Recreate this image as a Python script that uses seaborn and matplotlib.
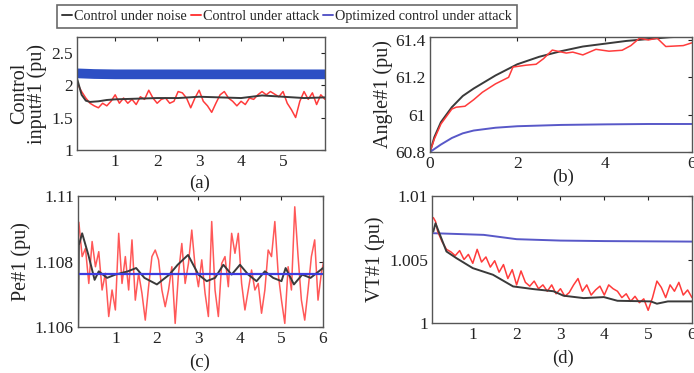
import numpy as np
import matplotlib
matplotlib.use("Agg")
import matplotlib.pyplot as plt
from matplotlib.lines import Line2D
import seaborn as sns

# === Series labels / colours ===
labels = ["Control under noise", "Control under attack", "Optimized control under attack"]
c_noise = "#3a3a3a"
c_attack = "#ff3b3b"
c_opt = "#5858c8"

# === (a) Control input#1 ===
a_red_t = np.round(np.arange(0.1, 6.01, 0.1), 2)
a_red = [2.02, 1.90, 1.80, 1.72, 1.68, 1.65, 1.72, 1.68, 1.75, 1.85,
         1.72, 1.80, 1.72, 1.78, 1.70, 1.82, 1.78, 1.92, 1.80, 1.72,
         1.78, 1.80, 1.72, 1.75, 1.90, 1.88, 1.80, 1.65, 1.80, 1.92,
         1.75, 1.68, 1.58, 1.72, 1.85, 1.90, 1.80, 1.75, 1.68, 1.75,
         1.70, 1.80, 1.78, 1.85, 1.90, 1.85, 1.90, 1.86, 1.82, 1.90,
         1.72, 1.62, 1.50, 1.75, 1.90, 1.78, 1.88, 1.70, 1.85, 1.78]
a_black_t = [0.1, 0.2, 0.3, 0.4, 0.6, 0.8, 1.0, 1.5, 2.0, 2.5, 3.0, 3.5, 4.0, 4.5, 5.0, 5.5, 6.0]
a_black = [2.08, 1.85, 1.76, 1.74, 1.75, 1.77, 1.78, 1.79, 1.80, 1.80, 1.82, 1.81, 1.80, 1.84, 1.82, 1.80, 1.81]
a_blue_t = [0.1, 0.5, 1, 2, 3, 4, 5, 6]
a_blue = [2.18, 2.17, 2.165, 2.165, 2.165, 2.165, 2.165, 2.165]

# === (b) Angle#1 ===
b_black_t = [0, 0.1, 0.25, 0.5, 0.75, 1, 1.5, 2, 2.5, 3, 3.5, 4, 4.5, 5, 5.5, 6]
b_black = [60.8, 60.88, 60.96, 61.04, 61.10, 61.14, 61.21, 61.27, 61.31, 61.34,
           61.365, 61.38, 61.395, 61.405, 61.415, 61.42]
b_red_t = [0, 0.1, 0.25, 0.5, 0.6, 0.8, 1.0, 1.2, 1.5, 1.8, 1.9, 2.2, 2.43, 2.6, 2.8,
           3.12, 3.27, 3.5, 3.8, 4.1, 4.4, 4.6, 4.8, 5.0, 5.2, 5.4, 5.8, 6.0]
b_red = [60.8, 60.87, 60.95, 61.03, 61.04, 61.045, 61.08, 61.12, 61.165, 61.20, 61.255, 61.265,
         61.27, 61.30, 61.346, 61.33, 61.335, 61.32, 61.35, 61.34, 61.345, 61.37, 61.41,
         61.40, 61.41, 61.365, 61.37, 61.385]
b_blue_t = [0, 0.25, 0.5, 0.75, 1, 1.5, 2, 3, 4, 5, 6]
b_blue = [60.8, 60.84, 60.875, 60.9, 60.915, 60.93, 60.938, 60.945, 60.948, 60.95, 60.95]

# === (c) Pe#1 ===
c_red_t = np.round(np.linspace(0.12, 6.04, 75), 3)
c_red = [1.10920, 1.10815, 1.10840, 1.10733, 1.10861, 1.10784, 1.10830, 1.10713, 1.10764, 1.10632,
         1.10713, 1.10652, 1.10886, 1.10733, 1.10815, 1.10713, 1.10866, 1.10682, 1.10764, 1.10703,
         1.10621, 1.10723, 1.10815, 1.10835, 1.10805, 1.10713, 1.10662, 1.10713, 1.10784, 1.10611,
         1.10764, 1.10855, 1.10733, 1.10794, 1.10896, 1.10784, 1.10723, 1.10805, 1.10703, 1.10632,
         1.10922, 1.10713, 1.10632, 1.10794, 1.10815, 1.10723, 1.10886, 1.10825, 1.10886, 1.10733,
         1.10652, 1.10713, 1.10774, 1.10713, 1.10733, 1.10642, 1.10713, 1.10835, 1.10815, 1.10922,
         1.10764, 1.10682, 1.10611, 1.10784, 1.10713, 1.10967, 1.10815, 1.10682, 1.10621, 1.10713,
         1.10815, 1.10866, 1.10682, 1.10764, 1.10815]
c_black_t = [0.1, 0.12, 0.2, 0.35, 0.5, 0.6, 0.8, 1.0, 1.3, 1.5, 1.7, 2.0, 2.3, 2.5, 2.75, 3.0,
             3.2, 3.4, 3.6, 3.8, 4.0, 4.2, 4.4, 4.6, 4.8, 5.0, 5.1, 5.3, 5.5, 5.7, 5.9, 6.0]
c_black = [1.1055, 1.1085, 1.10886, 1.1082, 1.10744, 1.1077, 1.1075, 1.1076, 1.1077, 1.1078,
           1.1075, 1.1073, 1.1076, 1.1079, 1.1082, 1.1076, 1.1074, 1.1075, 1.1079, 1.1076,
           1.1079, 1.1076, 1.1074, 1.1077, 1.1075, 1.1074, 1.1078, 1.1073, 1.1076, 1.1075,
           1.1077, 1.1078]
c_blue_t = [0.1, 6.0]
c_blue = [1.10762, 1.10762]

# === (d) VT#1 ===
d_red_t = [0.1, 0.15] + list(np.round(np.arange(0.2, 6.01, 0.1), 2))
d_red = [1.0083, 1.0080, 1.0072, 1.0064, 1.0058, 1.0056, 1.0053, 1.0057, 1.0050, 1.0054,
         1.0047, 1.0058, 1.0048, 1.0052, 1.0044, 1.0049, 1.0040, 1.0046, 1.0035, 1.0042,
         1.0030, 1.0041, 1.0032, 1.0029, 1.0033, 1.0027, 1.0030, 1.0025, 1.0030, 1.0023,
         1.0027, 1.0021, 1.0024, 1.0030, 1.0035, 1.0025, 1.0030, 1.0022, 1.0026, 1.0029,
         1.0022, 1.0030, 1.0027, 1.0025, 1.0020, 1.0023, 1.0017, 1.0021, 1.0016, 1.0019,
         1.0010, 1.0020, 1.0033, 1.0028, 1.0020, 1.0030, 1.0025, 1.0032, 1.0022, 1.0026,
         1.0020]
d_black_t = [0.1, 0.15, 0.4, 0.63, 1.0, 1.46, 1.92, 2.38, 2.84, 3.07, 3.53, 3.99, 4.3, 5.06, 5.2, 5.45, 6.0]
d_black = [1.0072, 1.00785, 1.00563, 1.0051, 1.00432, 1.0038, 1.00288, 1.00267, 1.0025, 1.00215,
           1.00196, 1.00204, 1.00175, 1.0017, 1.00152, 1.0017, 1.0017]
d_blue_t = [0.1, 1.25, 2.0, 3.0, 4.0, 6.0]
d_blue = [1.00707, 1.00694, 1.0066, 1.00649, 1.00645, 1.00641]

sns.set_theme(style="white")
plt.rcParams["font.family"] = ["Liberation Serif", "DejaVu Serif"]

fig = plt.figure(figsize=(6.94, 3.73), dpi=100)
W, H = 694, 373


def rect(l, r, t, b):
    return [l / W, 1 - b / H, (r - l) / W, (b - t) / H]


ax_a = fig.add_axes(rect(77, 325, 37, 150))
ax_b = fig.add_axes(rect(430, 692, 37, 152))
ax_c = fig.add_axes(rect(78, 323, 196, 327))
ax_d = fig.add_axes(rect(432, 692, 196, 323))

# (a)
sns.lineplot(x=a_blue_t, y=a_blue, ax=ax_a, color="#2d4fc4", lw=7)
sns.lineplot(x=a_red_t, y=a_red, ax=ax_a, color=c_attack, lw=1.1)
sns.lineplot(x=a_black_t, y=a_black, ax=ax_a, color=c_noise, lw=1.4)
ax_a.set_xlim(0.09, 6)
ax_a.set_ylim(1, 2.74)
ax_a.set_xticks([1, 2, 3, 4, 5])
ax_a.set_yticks([1, 1.5, 2, 2.5])
ax_a.set_yticklabels(["1", "1.5", "2", "2.5"])
ax_a.set_ylabel("Control\ninput#1 (pu)", fontsize=14.5, linespacing=0.9, labelpad=3)

# (b)
sns.lineplot(x=b_black_t, y=b_black, ax=ax_b, color=c_noise, lw=1.4)
sns.lineplot(x=b_red_t, y=b_red, ax=ax_b, color=c_attack, lw=1.1)
sns.lineplot(x=b_blue_t, y=b_blue, ax=ax_b, color=c_opt, lw=1.4)
ax_b.set_xlim(0, 6)
ax_b.set_ylim(60.8, 61.416)
ax_b.set_xticks([0, 2, 4, 6])
ax_b.set_yticks([60.8, 61, 61.2, 61.4])
ax_b.set_yticklabels(["60.8", "61", "61.2", "61.4"])
ax_b.set_ylabel("Angle#1 (pu)", fontsize=14.5, labelpad=2)

# (c)
sns.lineplot(x=c_red_t, y=c_red, ax=ax_c, color=c_attack, lw=1.1, alpha=0.85)
sns.lineplot(x=c_black_t, y=c_black, ax=ax_c, color=c_noise, lw=1.4)
sns.lineplot(x=c_blue_t, y=c_blue, ax=ax_c, color="#3c3ce0", lw=1.6)
ax_c.set_xlim(0.1, 6)
ax_c.set_ylim(1.106, 1.11)
ax_c.set_xticks([1, 2, 3, 4, 5, 6])
ax_c.set_yticks([1.106, 1.108, 1.11])
ax_c.set_yticklabels(["1.106", "1.108", "1.11"])
ax_c.set_ylabel("Pe#1 (pu)", fontsize=14.5, labelpad=3)

# (d)
sns.lineplot(x=d_blue_t, y=d_blue, ax=ax_d, color=c_opt, lw=1.4)
sns.lineplot(x=d_red_t, y=d_red, ax=ax_d, color=c_attack, lw=1.1)
sns.lineplot(x=d_black_t, y=d_black, ax=ax_d, color=c_noise, lw=1.4)
ax_d.set_xlim(0.07, 6)
ax_d.set_ylim(1, 1.01)
ax_d.set_xticks([1, 2, 3, 4, 5, 6])
ax_d.set_yticks([1, 1.005, 1.01])
ax_d.set_yticklabels(["1", "1.005", "1.01"])
ax_d.set_ylabel("VT#1 (pu)", fontsize=14.5, labelpad=3)

for ax in (ax_a, ax_b, ax_c, ax_d):
    ax.tick_params(direction="in", length=3, width=0.8, top=True, right=True,
                   labelsize=12.5, colors="#222222", pad=3)
    for s in ax.spines.values():
        s.set_color("#555555")
        s.set_linewidth(1.0)
    ax.set_xlabel("")
    ax.yaxis.label.set_color("#222222")
    if ax.get_legend():
        ax.get_legend().remove()

fig.text(200 / W, 1 - 183 / H, "(a)", ha="center", va="center", fontsize=13.5, color="#222222")
fig.text(563 / W, 1 - 177 / H, "(b)", ha="center", va="center", fontsize=13.5, color="#222222")
fig.text(200 / W, 1 - 362 / H, "(c)", ha="center", va="center", fontsize=13.5, color="#222222")
fig.text(563 / W, 1 - 358 / H, "(d)", ha="center", va="center", fontsize=13.5, color="#222222")

handles = [Line2D([], [], color=c_noise, lw=1.4),
           Line2D([], [], color=c_attack, lw=1.4),
           Line2D([], [], color=c_opt, lw=1.4)]
leg = fig.legend(handles, labels, ncol=3, loc="center",
                 bbox_to_anchor=(287 / W, 1 - 16.5 / H), fontsize=10.3,
                 handlelength=0.7, handletextpad=0.15, columnspacing=0.25,
                 frameon=True, fancybox=False, borderpad=0.35, borderaxespad=0)
leg.get_frame().set_edgecolor("#444444")
leg.get_frame().set_linewidth(1.2)

fig.savefig("out.png", dpi=100)
